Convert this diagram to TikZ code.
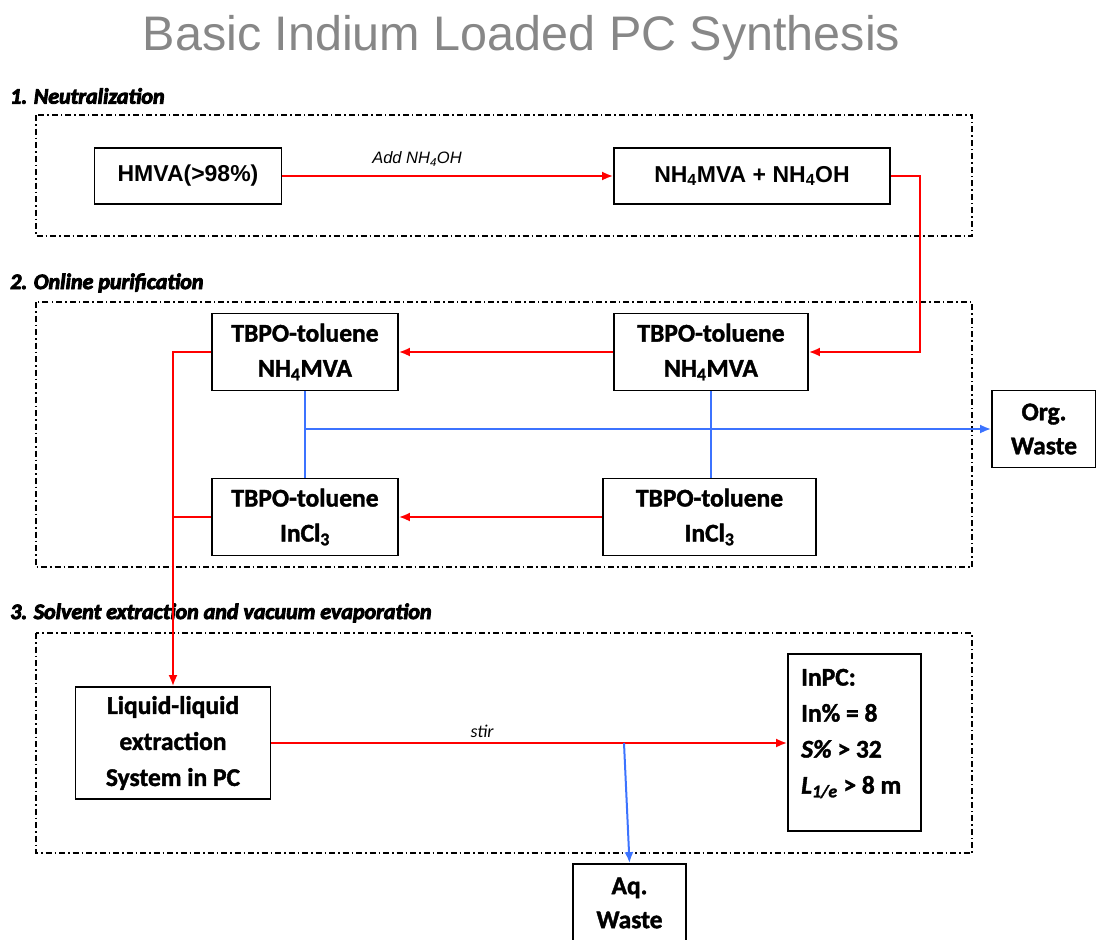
\documentclass[tikz,border=0pt]{standalone}
\usepackage{fontspec}
\setmainfont{Carlito}
\newfontfamily\arialfont{Liberation Sans}
\newfontfamily\calfont{Carlito}[BoldFeatures={FakeBold=1.5},BoldItalicFeatures={FakeBold=1.5}]
\newfontfamily\hdrfont{Carlito}[BoldItalicFeatures={FakeBold=4}]
\usetikzlibrary{arrows.meta,calc}
\definecolor{titlegray}{RGB}{135,135,135}
\definecolor{lnred}{RGB}{255,0,0}
\definecolor{lnblue}{RGB}{60,115,255}
\begin{document}
\begin{tikzpicture}[x=1pt,y=-1pt,
  box/.style={draw, line width=1.8pt, inner sep=0pt, align=center,
    font=\calfont\bfseries\fontsize{25.5}{35}\selectfont},
  abox/.style={draw, line width=1.8pt, inner sep=0pt, align=center,
    font=\arialfont\bfseries\fontsize{23}{28}\selectfont},
  section/.style={draw, line width=1.5pt, dash pattern=on 6pt off 3pt on 1.5pt off 3pt},
  hdr/.style={anchor=west, inner sep=0pt, font=\hdrfont\bfseries\itshape\fontsize{22}{26}\selectfont},
  redline/.style={draw=lnred, line width=2pt},
  redarr/.style={redline, -{Latex[length=11pt,width=9pt]}},
  blueline/.style={draw=lnblue, line width=2pt},
  bluearr/.style={blueline, -{Latex[length=11pt,width=9pt]}},
  lbl/.style={inner sep=0pt, font=\calfont\itshape\fontsize{18}{22}\selectfont}
]
\useasboundingbox (0,0) rectangle (1096,940);

% title
\node[inner sep=0pt, text=titlegray, font=\arialfont\fontsize{48.5}{58}\selectfont] (title) at (521.5,38) {Basic Indium Loaded PC Synthesis};

% section frames
\draw[section] (36,115) rectangle (972,236);
\draw[section] (36,302) rectangle (972,567);
\draw[section] (36,633) rectangle (972,853);

% section headers
\node[hdr] (h1) at (10,96) {1. Neutralization};
\node[hdr] (h2) at (10,283) {2. Online purification};
\node[hdr] (h3) at (10,613) {3. Solvent extraction and vacuum evaporation};

% section 1 nodes
\node[abox, minimum width=187pt, minimum height=56pt] (hmva) at (188,176) {HMVA(>98\%)};
\node[abox, minimum width=276pt, minimum height=56pt] (nh4) at (752,176) {NH\textsubscript{4}MVA + NH\textsubscript{4}OH};

% section 2 nodes
\node[box, minimum width=186pt, minimum height=77pt] (L1) at (305,352) {TBPO-toluene\\NH\textsubscript{4}MVA};
\node[box, minimum width=194pt, minimum height=77pt] (R1) at (711,352) {TBPO-toluene\\NH\textsubscript{4}MVA};
\node[box, minimum width=186pt, minimum height=77pt] (L2) at (305,517) {TBPO-toluene\\InCl\textsubscript{3}};
\node[box, minimum width=213pt, minimum height=77pt] (R2) at (709.5,517) {TBPO-toluene\\InCl\textsubscript{3}};
\node[box, minimum width=104pt, minimum height=77pt, font=\calfont\bfseries\fontsize{25.5}{34}\selectfont] (org) at (1044,429) {Org.\\Waste};

% section 3 nodes
\node[box, minimum width=195pt, minimum height=112pt, font=\calfont\bfseries\fontsize{25.5}{36}\selectfont] (lle) at (173,743) {Liquid-liquid\\extraction\\System in PC};
\node[box, minimum width=133pt, minimum height=177pt] (inpc) at (854.5,742.5) {};
\node[anchor=west, inner sep=0pt, align=left, font=\calfont\bfseries\fontsize{25.5}{36}\selectfont] (inpctxt) at (801,733.5)
  {InPC:\\In\% = 8\\\textit{S\%} > 32\\\textit{L\textsubscript{1/e}} > 8 m};
\node[box, minimum width=113pt, minimum height=78pt, font=\calfont\bfseries\fontsize{25.5}{34}\selectfont] (aq) at (629.5,903) {Aq.\\Waste};

% labels
\node[lbl, font=\arialfont\itshape\fontsize{16.5}{20}\selectfont] (addlbl) at (417,159) {Add NH\textsubscript{4}OH};
\node[lbl] (stirlbl) at (482,731) {stir};

% connectors
\coordinate (turn1) at (920,176);
\draw[redarr] (hmva.east) -- (nh4.west);
\draw[redarr] (nh4.east) -- (turn1) |- (R1.east);
\draw[redarr] (R1.west) -- (L1.east);
\draw[redarr] (R2.west) -- (L2.east);
\draw[redarr] (L1.west) -| (lle.north);
\draw[redline] (L2.west) -- (L2.west -| lle.north);
\draw[blueline] (L1.south) -- (L2.north);
\draw[blueline] (R1.south) -- (R1.south |- R2.north);
\draw[bluearr] (L1.south |- org.west) -- (org.west);
\draw[redarr] (lle.east) -- (inpc.west |- lle.east);
\coordinate (split) at (624,743);
\draw[bluearr] (split) -- (aq.north);
\end{tikzpicture}
\end{document}
